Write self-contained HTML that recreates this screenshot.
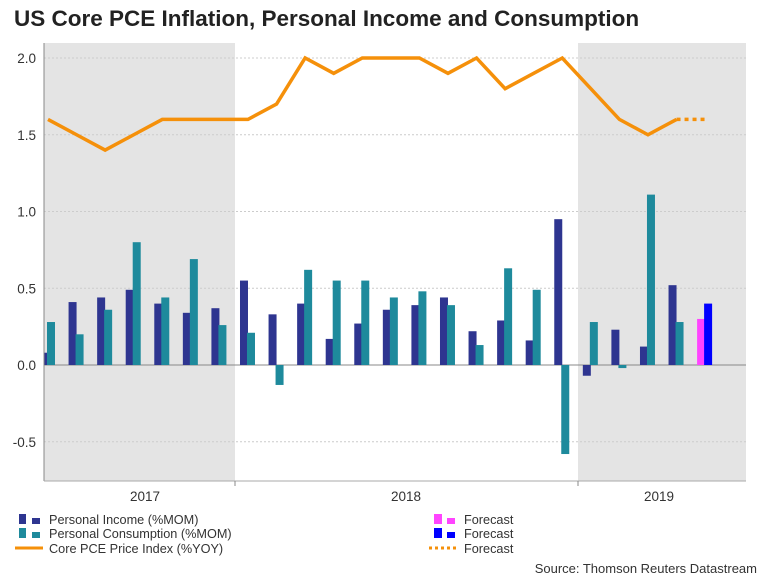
<!DOCTYPE html>
<html><head><meta charset="utf-8"><style>
body{margin:0;background:#fff;width:768px;height:576px;overflow:hidden;font-family:"Liberation Sans",sans-serif}
svg text{font-family:"Liberation Sans",sans-serif}
</style></head><body>
<svg id="c" width="768" height="576">
<text x="14" y="26" font-size="22.5" font-weight="bold" fill="#222">US Core PCE Inflation, Personal Income and Consumption</text>
<rect x="44" y="43" width="191" height="438" fill="#e4e4e4"/>
<rect x="578" y="43" width="168" height="438" fill="#e4e4e4"/>
<g id="grid"></g><g id="bars"></g><g id="lines"></g>
<line x1="44" y1="43" x2="44" y2="481" stroke="#888"/>
<line x1="44" y1="481" x2="746" y2="481" stroke="#aaa"/>
<line x1="235" y1="481" x2="235" y2="486" stroke="#888"/>
<line x1="578" y1="481" x2="578" y2="486" stroke="#888"/>
<text x="145" y="501" font-size="13.5" fill="#333" text-anchor="middle">2017</text>
<text x="406" y="501" font-size="13.5" fill="#333" text-anchor="middle">2018</text>
<text x="659" y="501" font-size="13.5" fill="#333" text-anchor="middle">2019</text>
<g font-size="12.7" fill="#333">
<rect x="19" y="514" width="7" height="10" fill="#2e3590"/><rect x="32" y="518" width="8" height="6" fill="#2e3590"/>
<text x="49" y="524">Personal Income (%MOM)</text>
<rect x="19" y="528" width="7" height="10" fill="#1e8a9c"/><rect x="32" y="532" width="8" height="6" fill="#1e8a9c"/>
<text x="49" y="538">Personal Consumption (%MOM)</text>
<line x1="15" y1="548" x2="43" y2="548" stroke="#f5900a" stroke-width="3"/>
<text x="49" y="553">Core PCE Price Index (%YOY)</text>
<rect x="434" y="514" width="8" height="10" fill="#ff44ff"/><rect x="447" y="518" width="8" height="6" fill="#ff44ff"/>
<text x="464" y="524">Forecast</text>
<rect x="434" y="528" width="8" height="10" fill="#0000ff"/><rect x="447" y="532" width="8" height="6" fill="#0000ff"/>
<text x="464" y="538">Forecast</text>
<line x1="429" y1="548" x2="458" y2="548" stroke="#f5900a" stroke-width="3" stroke-dasharray="3,3"/>
<text x="464" y="553">Forecast</text>
</g>
<text x="757" y="573" font-size="13" fill="#333" text-anchor="end">Source: Thomson Reuters Datastream</text>
</svg>
<script>
const income=[0.08,0.41,0.44,0.49,0.40,0.34,0.37,0.55,0.33,0.40,0.17,0.27,0.36,0.39,0.44,0.22,0.29,0.16,0.95,-0.07,0.23,0.12,0.52];
const consumption=[0.28,0.20,0.36,0.80,0.44,0.69,0.26,0.21,-0.13,0.62,0.55,0.55,0.44,0.48,0.39,0.13,0.63,0.49,-0.58,0.28,-0.02,1.11,0.28];
const incomeForecast=[0.30];
const consumptionForecast=[0.40];
const pce=[1.6,1.5,1.4,1.5,1.6,1.6,1.6,1.6,1.7,2.0,1.9,2.0,2.0,2.0,1.9,2.0,1.8,1.9,2.0,1.8,1.6,1.5,1.6];
const pceForecast=[1.6];
const yTicks=[-0.5,0.0,0.5,1.0,1.5,2.0];
const NS="http://www.w3.org/2000/svg";
const y=v=>365-v*153.5;
const x=i=>40+i*28.57;
function mk(t,a,p){const e=document.createElementNS(NS,t);for(const k in a)e.setAttribute(k,a[k]);p.appendChild(e);return e;}
const grid=document.getElementById('grid'),bars=document.getElementById('bars'),lines=document.getElementById('lines');
yTicks.forEach(v=>{
 const l=mk('line',{x1:44,x2:746,y1:y(v),y2:y(v),stroke:v===0?'#888':'#ccc','stroke-dasharray':v===0?'':'2,2'},grid);
 
 
 const t=mk('text',{x:36,y:y(v)+5,'font-size':13.5,fill:'#333','text-anchor':'end'},grid);
 t.textContent=v.toFixed(1);
 
 
});
function bar(i,off,v,col){
 const x0=Math.max(x(i)+off,44),x1=x(i)+off+8;
 const r=mk('rect',{x:x0,width:x1-x0,y:Math.min(y(v),y(0)),height:Math.abs(y(v)-y(0)),fill:col},bars);
 return r;
}
income.forEach((v,i)=>{const r=bar(i,0,v,'#2e3590');
 
 });
consumption.forEach((v,i)=>{const r=bar(i,7,v,'#1e8a9c');
 
 });
incomeForecast.forEach((v,k)=>{const r=bar(income.length+k,0,v,'#ff44ff');
 
 });
consumptionForecast.forEach((v,k)=>{const r=bar(income.length+k,7,v,'#0000ff');
 
 });
const cx=i=>x(i)+8;
const pl=mk('polyline',{points:pce.map((v,i)=>cx(i)+','+y(v)).join(' '),fill:'none',stroke:'#f5900a','stroke-width':3.5,'stroke-linejoin':'miter'},lines);


const fp=[pce[pce.length-1]].concat(pceForecast);
const fl=mk('polyline',{points:fp.map((v,k)=>cx(pce.length-1+k)+','+y(v)).join(' '),fill:'none',stroke:'#f5900a','stroke-width':3.5,'stroke-dasharray':'4,4'},lines);


</script>
</body></html>
